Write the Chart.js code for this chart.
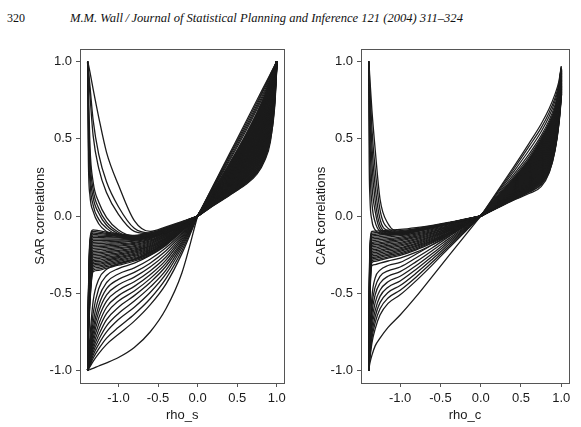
<!DOCTYPE html>
<html><head><meta charset="utf-8">
<script src="https://cdn.jsdelivr.net/npm/chart.js@4.4.1/dist/chart.umd.min.js"></script>
<style>
html,body{margin:0;padding:0;background:#fff;width:581px;height:427px;overflow:hidden;}
#hn{position:absolute;left:7px;top:12px;font:13px/13px "Liberation Serif";color:#111;white-space:nowrap;}
#ht{position:absolute;left:70px;top:12px;font:italic 13px/13px "Liberation Serif";color:#111;white-space:nowrap;}
#c1{position:absolute;left:0;top:0;width:290px;height:427px;}
#c2{position:absolute;left:290px;top:0;width:291px;height:427px;}
</style></head><body>
<span id="hn">320</span>
<span id="ht">M.M. Wall&#8201;/&#8201;Journal of Statistical Planning and Inference 121 (2004) 311&ndash;324</span>
<canvas id="c1" width="290" height="427"></canvas>
<canvas id="c2" width="291" height="427"></canvas>
<script>
// fit the running header to the width it has in the page
(function(){
  const ht = document.getElementById('ht');
  const w = ht.getBoundingClientRect().width;
  if (w > 0) ht.style.fontSize = (13 * 393 / w).toFixed(2) + 'px';
  const hn = document.getElementById('hn');
  const wn = hn.getBoundingClientRect().width;
  if (wn > 0) hn.style.fontSize = (13 * 18 / wn).toFixed(2) + 'px';
})();

const xTicks = [-1, -0.5, 0, 0.5, 1];
const yTicks = [-1, -0.5, 0, 0.5, 1];

// ---- SAR panel ----
const sarLeftX = [-1.39, -1.38, -1.36, -1.32, -1.25, -1.15, -1.0, -0.8, -0.6, -0.4, -0.2, 0];
const sarLeftCurves = [
  [1, 0.98, 0.93, 0.82, 0.64, 0.41, 0.20, -0.03, -0.10, -0.07, -0.037, 0],
  [1, 0.95, 0.84, 0.62, 0.40, 0.22, 0.06, -0.08, -0.11, -0.075, -0.04, 0],
  [1, 0.93, 0.78, 0.52, 0.31, 0.15, 0.01, -0.10, -0.115, -0.08, -0.042, 0],
  [1, 0.84, 0.45, 0.22, 0.09, -0.01, -0.09, -0.13, -0.12, -0.085, -0.045, 0],
  [1, 0.74, 0.38, 0.17, 0.05, -0.04, -0.105, -0.14, -0.125, -0.09, -0.047, 0],
  [1, 0.62, 0.30, 0.12, 0.02, -0.06, -0.115, -0.145, -0.13, -0.095, -0.05, 0],
  [1, 0.50, 0.22, 0.07, -0.02, -0.08, -0.125, -0.15, -0.135, -0.10, -0.052, 0],
  [1, 0.36, 0.13, 0.03, -0.05, -0.10, -0.135, -0.155, -0.14, -0.105, -0.055, 0],
  [-1, -0.52, -0.15, -0.09, -0.095, -0.105, -0.115, -0.125, -0.11, -0.08, -0.042, 0],
  [-1, -0.56, -0.17, -0.10, -0.104, -0.112, -0.12, -0.128, -0.113, -0.082, -0.043, 0],
  [-1, -0.53, -0.18, -0.11, -0.113, -0.118, -0.125, -0.131, -0.116, -0.084, -0.044, 0],
  [-1, -0.58, -0.20, -0.12, -0.122, -0.125, -0.13, -0.134, -0.119, -0.086, -0.045, 0],
  [-1, -0.55, -0.21, -0.13, -0.131, -0.133, -0.136, -0.138, -0.122, -0.088, -0.046, 0],
  [-1, -0.60, -0.23, -0.14, -0.14, -0.141, -0.142, -0.142, -0.126, -0.091, -0.048, 0],
  [-1, -0.57, -0.24, -0.15, -0.15, -0.15, -0.149, -0.146, -0.13, -0.094, -0.05, 0],
  [-1, -0.62, -0.26, -0.16, -0.159, -0.158, -0.156, -0.151, -0.134, -0.097, -0.051, 0],
  [-1, -0.59, -0.27, -0.17, -0.169, -0.167, -0.164, -0.157, -0.139, -0.10, -0.053, 0],
  [-1, -0.64, -0.29, -0.18, -0.179, -0.176, -0.172, -0.163, -0.144, -0.104, -0.055, 0],
  [-1, -0.61, -0.30, -0.19, -0.188, -0.185, -0.18, -0.17, -0.149, -0.108, -0.057, 0],
  [-1, -0.66, -0.32, -0.20, -0.198, -0.194, -0.188, -0.177, -0.155, -0.112, -0.059, 0],
  [-1, -0.63, -0.33, -0.21, -0.208, -0.203, -0.196, -0.184, -0.161, -0.116, -0.061, 0],
  [-1, -0.68, -0.35, -0.22, -0.217, -0.212, -0.205, -0.191, -0.167, -0.12, -0.063, 0],
  [-1, -0.65, -0.36, -0.23, -0.227, -0.221, -0.213, -0.198, -0.173, -0.125, -0.066, 0],
  [-1, -0.70, -0.38, -0.24, -0.237, -0.23, -0.222, -0.206, -0.179, -0.13, -0.068, 0],
  [-1, -0.67, -0.39, -0.25, -0.246, -0.239, -0.23, -0.213, -0.185, -0.134, -0.07, 0],
  [-1, -0.72, -0.41, -0.26, -0.256, -0.248, -0.238, -0.22, -0.191, -0.139, -0.073, 0],
  [-1, -0.69, -0.42, -0.27, -0.266, -0.257, -0.246, -0.227, -0.197, -0.143, -0.075, 0],
  [-1, -0.74, -0.44, -0.28, -0.275, -0.266, -0.254, -0.234, -0.203, -0.148, -0.078, 0],
  [-1, -0.71, -0.45, -0.29, -0.285, -0.275, -0.262, -0.241, -0.209, -0.152, -0.08, 0],
  [-1, -0.76, -0.47, -0.30, -0.294, -0.284, -0.27, -0.248, -0.215, -0.157, -0.083, 0],
  [-1, -0.73, -0.48, -0.31, -0.304, -0.293, -0.278, -0.255, -0.221, -0.161, -0.085, 0],
  [-1, -0.78, -0.50, -0.32, -0.313, -0.301, -0.286, -0.262, -0.227, -0.166, -0.088, 0],
  [-1, -0.75, -0.51, -0.33, -0.323, -0.31, -0.294, -0.27, -0.233, -0.17, -0.09, 0],
  [-1, -0.80, -0.53, -0.34, -0.332, -0.319, -0.302, -0.277, -0.239, -0.175, -0.093, 0],
  [-1, -0.77, -0.54, -0.35, -0.342, -0.328, -0.31, -0.284, -0.245, -0.18, -0.095, 0],
  [-1, -0.82, -0.56, -0.36, -0.351, -0.337, -0.318, -0.291, -0.251, -0.184, -0.098, 0],
  [-1, -0.92, -0.78, -0.55, -0.41, -0.345, -0.31, -0.28, -0.235, -0.175, -0.093, 0],
  [-1, -0.94, -0.83, -0.63, -0.47, -0.385, -0.34, -0.305, -0.255, -0.19, -0.10, 0],
  [-1, -0.95, -0.86, -0.69, -0.53, -0.43, -0.375, -0.335, -0.28, -0.205, -0.11, 0],
  [-1, -0.96, -0.88, -0.73, -0.58, -0.47, -0.41, -0.365, -0.305, -0.225, -0.12, 0],
  [-1, -0.965, -0.895, -0.76, -0.62, -0.51, -0.445, -0.395, -0.33, -0.245, -0.13, 0],
  [-1, -0.97, -0.91, -0.79, -0.66, -0.55, -0.48, -0.425, -0.355, -0.265, -0.14, 0],
  [-1, -0.975, -0.92, -0.815, -0.70, -0.59, -0.515, -0.455, -0.38, -0.285, -0.152, 0],
  [-1, -0.978, -0.93, -0.84, -0.735, -0.63, -0.55, -0.485, -0.405, -0.305, -0.165, 0],
  [-1, -0.982, -0.94, -0.86, -0.77, -0.67, -0.59, -0.515, -0.43, -0.325, -0.177, 0],
  [-1, -0.985, -0.95, -0.88, -0.80, -0.71, -0.63, -0.55, -0.46, -0.35, -0.19, 0],
  [-1, -0.988, -0.96, -0.90, -0.83, -0.75, -0.67, -0.59, -0.495, -0.375, -0.205, 0],
  [-1, -0.99, -0.965, -0.92, -0.86, -0.79, -0.72, -0.635, -0.535, -0.405, -0.225, 0],
  [-1, -0.992, -0.975, -0.94, -0.89, -0.83, -0.765, -0.68, -0.575, -0.44, -0.245, 0],
  [-1, -0.997, -0.993, -0.985, -0.97, -0.95, -0.915, -0.85, -0.75, -0.60, -0.37, 0]
];
const sarRightX = [0, 0.2, 0.4, 0.6, 0.75, 0.85, 0.92, 0.97, 1.0];
const sarRightCurves = [
  [0, 0.200, 0.400, 0.600, 0.750, 0.850, 0.920, 0.970, 1],
  [0, 0.195, 0.390, 0.585, 0.735, 0.840, 0.915, 0.968, 1],
  [0, 0.190, 0.380, 0.570, 0.720, 0.830, 0.910, 0.965, 1],
  [0, 0.183, 0.367, 0.555, 0.705, 0.815, 0.900, 0.962, 1],
  [0, 0.177, 0.355, 0.540, 0.690, 0.800, 0.890, 0.958, 1],
  [0, 0.165, 0.335, 0.515, 0.665, 0.780, 0.875, 0.950, 1],
  [0, 0.160, 0.325, 0.500, 0.650, 0.765, 0.865, 0.945, 1],
  [0, 0.155, 0.315, 0.487, 0.636, 0.752, 0.855, 0.940, 1],
  [0, 0.150, 0.305, 0.474, 0.622, 0.739, 0.845, 0.935, 1],
  [0, 0.146, 0.296, 0.461, 0.608, 0.726, 0.835, 0.930, 1],
  [0, 0.142, 0.287, 0.449, 0.594, 0.713, 0.824, 0.924, 1],
  [0, 0.138, 0.279, 0.437, 0.580, 0.700, 0.813, 0.918, 1],
  [0, 0.134, 0.271, 0.425, 0.566, 0.687, 0.802, 0.912, 1],
  [0, 0.130, 0.263, 0.413, 0.552, 0.674, 0.791, 0.906, 1],
  [0, 0.126, 0.255, 0.401, 0.538, 0.660, 0.780, 0.900, 1],
  [0, 0.122, 0.247, 0.389, 0.524, 0.646, 0.768, 0.893, 1],
  [0, 0.118, 0.239, 0.377, 0.510, 0.632, 0.756, 0.886, 1],
  [0, 0.114, 0.231, 0.366, 0.496, 0.618, 0.744, 0.879, 1],
  [0, 0.110, 0.223, 0.355, 0.482, 0.604, 0.732, 0.872, 1],
  [0, 0.106, 0.216, 0.344, 0.468, 0.590, 0.719, 0.864, 1],
  [0, 0.103, 0.209, 0.333, 0.454, 0.575, 0.706, 0.856, 1],
  [0, 0.100, 0.202, 0.322, 0.440, 0.560, 0.693, 0.848, 1],
  [0, 0.097, 0.195, 0.311, 0.426, 0.545, 0.680, 0.839, 1],
  [0, 0.094, 0.188, 0.300, 0.412, 0.530, 0.666, 0.830, 1],
  [0, 0.091, 0.181, 0.289, 0.398, 0.514, 0.652, 0.821, 1],
  [0, 0.088, 0.174, 0.278, 0.384, 0.498, 0.637, 0.811, 1],
  [0, 0.085, 0.168, 0.268, 0.370, 0.482, 0.622, 0.800, 1],
  [0, 0.082, 0.162, 0.258, 0.356, 0.466, 0.606, 0.788, 1],
  [0, 0.079, 0.156, 0.248, 0.342, 0.449, 0.589, 0.775, 1],
  [0, 0.076, 0.150, 0.238, 0.327, 0.431, 0.571, 0.760, 1],
  [0, 0.074, 0.145, 0.228, 0.312, 0.413, 0.551, 0.744, 1],
  [0, 0.072, 0.140, 0.218, 0.297, 0.394, 0.529, 0.726, 1],
  [0, 0.070, 0.135, 0.208, 0.282, 0.376, 0.505, 0.708, 1],
  [0, 0.070, 0.135, 0.200, 0.270, 0.360, 0.480, 0.700, 1]
];

// ---- CAR panel ----
const carLeftX = [-1.39, -1.385, -1.375, -1.35, -1.31, -1.25, -1.15, -1.0, -0.8, -0.6, -0.4, -0.2, 0];
const carLeftCurves = [
  [1, 0.97, 0.88, 0.68, 0.43, 0.11, -0.05, -0.10, -0.085, -0.065, -0.044, -0.022, 0],
  [1, 0.95, 0.82, 0.56, 0.30, 0.04, -0.08, -0.105, -0.088, -0.067, -0.045, -0.023, 0],
  [1, 0.92, 0.74, 0.45, 0.19, -0.02, -0.095, -0.11, -0.09, -0.068, -0.046, -0.023, 0],
  [1, 0.88, 0.64, 0.33, 0.10, -0.06, -0.105, -0.112, -0.093, -0.07, -0.047, -0.024, 0],
  [1, 0.80, 0.50, 0.20, 0.03, -0.085, -0.11, -0.115, -0.095, -0.072, -0.048, -0.024, 0],
  [1, 0.65, 0.32, 0.08, -0.04, -0.10, -0.115, -0.118, -0.097, -0.073, -0.049, -0.025, 0],
  [1, 0.40, 0.12, -0.03, -0.09, -0.115, -0.12, -0.12, -0.10, -0.075, -0.05, -0.025, 0],
  [-1, -0.55, -0.20, -0.10, -0.098, -0.096, -0.092, -0.087, -0.075, -0.06, -0.042, -0.021, 0],
  [-1, -0.60, -0.22, -0.11, -0.108, -0.105, -0.10, -0.094, -0.081, -0.064, -0.045, -0.023, 0],
  [-1, -0.57, -0.23, -0.12, -0.118, -0.115, -0.109, -0.102, -0.088, -0.07, -0.049, -0.025, 0],
  [-1, -0.62, -0.25, -0.13, -0.127, -0.124, -0.118, -0.11, -0.095, -0.075, -0.053, -0.027, 0],
  [-1, -0.59, -0.26, -0.14, -0.137, -0.134, -0.127, -0.119, -0.102, -0.081, -0.057, -0.029, 0],
  [-1, -0.64, -0.28, -0.15, -0.147, -0.143, -0.137, -0.127, -0.11, -0.087, -0.062, -0.031, 0],
  [-1, -0.61, -0.29, -0.16, -0.157, -0.153, -0.146, -0.136, -0.117, -0.093, -0.066, -0.034, 0],
  [-1, -0.66, -0.31, -0.17, -0.167, -0.162, -0.155, -0.144, -0.124, -0.099, -0.07, -0.036, 0],
  [-1, -0.63, -0.32, -0.18, -0.176, -0.172, -0.164, -0.153, -0.131, -0.104, -0.074, -0.038, 0],
  [-1, -0.68, -0.34, -0.19, -0.186, -0.181, -0.173, -0.161, -0.139, -0.11, -0.078, -0.04, 0],
  [-1, -0.65, -0.35, -0.20, -0.196, -0.191, -0.182, -0.17, -0.146, -0.116, -0.082, -0.042, 0],
  [-1, -0.70, -0.37, -0.21, -0.206, -0.20, -0.191, -0.178, -0.153, -0.122, -0.086, -0.044, 0],
  [-1, -0.67, -0.38, -0.22, -0.216, -0.21, -0.20, -0.187, -0.161, -0.128, -0.09, -0.046, 0],
  [-1, -0.72, -0.40, -0.23, -0.225, -0.22, -0.209, -0.195, -0.168, -0.133, -0.094, -0.048, 0],
  [-1, -0.69, -0.41, -0.24, -0.235, -0.229, -0.218, -0.204, -0.175, -0.139, -0.098, -0.05, 0],
  [-1, -0.74, -0.43, -0.25, -0.245, -0.239, -0.228, -0.212, -0.182, -0.145, -0.102, -0.052, 0],
  [-1, -0.71, -0.44, -0.26, -0.255, -0.248, -0.237, -0.221, -0.19, -0.151, -0.107, -0.055, 0],
  [-1, -0.76, -0.46, -0.27, -0.265, -0.258, -0.246, -0.229, -0.197, -0.157, -0.111, -0.057, 0],
  [-1, -0.73, -0.47, -0.28, -0.274, -0.267, -0.255, -0.238, -0.204, -0.162, -0.115, -0.059, 0],
  [-1, -0.78, -0.49, -0.29, -0.284, -0.277, -0.264, -0.246, -0.212, -0.168, -0.119, -0.061, 0],
  [-1, -0.75, -0.50, -0.30, -0.294, -0.286, -0.273, -0.255, -0.219, -0.174, -0.123, -0.063, 0],
  [-1, -0.80, -0.53, -0.32, -0.314, -0.305, -0.291, -0.272, -0.234, -0.186, -0.131, -0.067, 0],
  [-1, -0.90, -0.75, -0.52, -0.40, -0.35, -0.32, -0.30, -0.246, -0.186, -0.123, -0.062, 0],
  [-1, -0.92, -0.79, -0.58, -0.46, -0.39, -0.355, -0.33, -0.27, -0.205, -0.135, -0.068, 0],
  [-1, -0.93, -0.82, -0.63, -0.51, -0.435, -0.39, -0.36, -0.295, -0.223, -0.148, -0.074, 0],
  [-1, -0.94, -0.85, -0.68, -0.56, -0.48, -0.425, -0.39, -0.32, -0.242, -0.16, -0.08, 0],
  [-1, -0.95, -0.87, -0.72, -0.61, -0.52, -0.46, -0.42, -0.344, -0.26, -0.172, -0.086, 0],
  [-1, -0.955, -0.89, -0.76, -0.65, -0.56, -0.495, -0.45, -0.369, -0.279, -0.185, -0.092, 0],
  [-1, -0.96, -0.905, -0.79, -0.69, -0.60, -0.53, -0.48, -0.394, -0.298, -0.197, -0.098, 0],
  [-1, -0.965, -0.92, -0.82, -0.73, -0.64, -0.565, -0.51, -0.418, -0.316, -0.209, -0.105, 0],
  [-1, -0.98, -0.95, -0.90, -0.84, -0.79, -0.72, -0.64, -0.52, -0.39, -0.26, -0.13, 0]
];
const carRightX = [0, 0.2, 0.4, 0.6, 0.75, 0.85, 0.92, 0.97, 1.0];
const carRightCurves = [
  [0, 0.155, 0.310, 0.470, 0.595, 0.695, 0.785, 0.870, 0.970],
  [0, 0.148, 0.296, 0.450, 0.570, 0.670, 0.760, 0.855, 0.965],
  [0, 0.140, 0.280, 0.425, 0.545, 0.645, 0.740, 0.840, 0.960],
  [0, 0.130, 0.262, 0.400, 0.520, 0.620, 0.715, 0.825, 0.955],
  [0, 0.122, 0.248, 0.382, 0.505, 0.605, 0.697, 0.812, 0.952],
  [0, 0.115, 0.235, 0.365, 0.490, 0.590, 0.680, 0.800, 0.950],
  [0, 0.112, 0.229, 0.356, 0.478, 0.578, 0.670, 0.793, 0.944],
  [0, 0.109, 0.223, 0.347, 0.466, 0.566, 0.660, 0.786, 0.938],
  [0, 0.106, 0.217, 0.338, 0.454, 0.554, 0.650, 0.779, 0.932],
  [0, 0.103, 0.211, 0.329, 0.442, 0.542, 0.640, 0.772, 0.926],
  [0, 0.100, 0.205, 0.320, 0.430, 0.530, 0.630, 0.765, 0.920],
  [0, 0.097, 0.199, 0.311, 0.419, 0.518, 0.620, 0.758, 0.914],
  [0, 0.094, 0.193, 0.302, 0.408, 0.506, 0.610, 0.751, 0.908],
  [0, 0.091, 0.187, 0.293, 0.397, 0.494, 0.600, 0.744, 0.902],
  [0, 0.088, 0.181, 0.284, 0.386, 0.482, 0.590, 0.737, 0.896],
  [0, 0.086, 0.176, 0.276, 0.375, 0.470, 0.580, 0.730, 0.890],
  [0, 0.084, 0.171, 0.268, 0.364, 0.458, 0.570, 0.723, 0.884],
  [0, 0.082, 0.166, 0.260, 0.353, 0.446, 0.560, 0.716, 0.878],
  [0, 0.080, 0.161, 0.252, 0.342, 0.434, 0.550, 0.709, 0.872],
  [0, 0.078, 0.156, 0.244, 0.331, 0.422, 0.540, 0.702, 0.866],
  [0, 0.076, 0.151, 0.236, 0.320, 0.410, 0.530, 0.695, 0.860],
  [0, 0.074, 0.146, 0.228, 0.309, 0.398, 0.520, 0.688, 0.854],
  [0, 0.072, 0.141, 0.220, 0.298, 0.386, 0.510, 0.681, 0.848],
  [0, 0.070, 0.137, 0.212, 0.288, 0.375, 0.500, 0.674, 0.842],
  [0, 0.068, 0.133, 0.205, 0.278, 0.364, 0.490, 0.667, 0.836],
  [0, 0.066, 0.129, 0.198, 0.268, 0.353, 0.480, 0.660, 0.830],
  [0, 0.064, 0.125, 0.191, 0.258, 0.342, 0.470, 0.653, 0.824],
  [0, 0.062, 0.121, 0.184, 0.248, 0.331, 0.461, 0.645, 0.818],
  [0, 0.060, 0.117, 0.177, 0.238, 0.320, 0.452, 0.637, 0.811],
  [0, 0.058, 0.113, 0.170, 0.228, 0.310, 0.444, 0.628, 0.804],
  [0, 0.055, 0.109, 0.163, 0.217, 0.300, 0.436, 0.619, 0.797],
  [0, 0.053, 0.105, 0.156, 0.205, 0.290, 0.428, 0.610, 0.789],
  [0, 0.050, 0.100, 0.145, 0.190, 0.280, 0.420, 0.600, 0.780]
];

const LINE = '#1b1b1b';
const AXC = '#555555';
const TXT = '#1a1a1a';
const FAM = '"Liberation Sans", Arial, sans-serif';
const FS = 13;
const OUTLIERS = 5;

function makeChart(canvas, lx, lc, rx, rc, yTitle, xTitle, yAxisW, titlePad, rightPad) {
  const datasets = [];
  const add = (xs, curves, widthFor) => curves.forEach((c, k) => datasets.push({
    data: xs.map((x, i) => ({x: x, y: c[i]})),
    borderColor: LINE, borderWidth: widthFor(k), pointRadius: 0, fill: false,
    cubicInterpolationMode: 'monotone', xAxisID: 'x', yAxisID: 'y'
  }));
  add(lx, lc, () => 1.3);
  add(rx, rc, k => (k < OUTLIERS || k === rc.length - 1) ? 1.2 : 2.0);
  return new Chart(canvas, {
    type: 'line',
    data: {datasets},
    options: {
      responsive: false, animation: false, events: [],
      layout: {padding: {top: 49, right: rightPad, bottom: 0, left: 0}},
      plugins: {legend: {display: false}, tooltip: {enabled: false}},
      scales: {
        x: {
          type: 'linear', position: 'bottom', min: -1.486, max: 1.096,
          afterBuildTicks: s => { s.ticks = xTicks.map(v => ({value: v})); },
          afterFit: s => { s.height = 44; },
          grid: {display: true, drawOnChartArea: false, drawTicks: true, tickLength: 4, color: AXC, lineWidth: 1},
          border: {display: true, color: AXC, width: 1},
          ticks: {padding: 4, color: TXT, font: {family: FAM, size: FS}, maxRotation: 0, autoSkip: false,
                  callback: v => v.toFixed(1)},
          title: {display: true, text: xTitle, color: TXT, font: {family: FAM, size: FS}, padding: {top: 0, bottom: 4}}
        },
        y: {
          type: 'linear', position: 'left', min: -1.08, max: 1.08,
          afterBuildTicks: s => { s.ticks = yTicks.map(v => ({value: v})); },
          afterFit: s => { s.width = yAxisW; },
          grid: {display: true, drawOnChartArea: false, drawTicks: true, tickLength: 4, color: AXC, lineWidth: 1},
          border: {display: true, color: AXC, width: 1},
          ticks: {padding: 4, color: TXT, font: {family: FAM, size: FS}, autoSkip: false,
                  callback: v => v.toFixed(1)},
          title: {display: true, text: yTitle, color: TXT, font: {family: FAM, size: FS}, padding: {top: titlePad, bottom: 0}}
        },
        x2: {
          type: 'linear', position: 'top', min: 0, max: 1,
          afterFit: s => { s.height = 0; },
          grid: {display: false, drawTicks: false}, ticks: {display: false},
          border: {display: true, color: AXC, width: 1}
        },
        y2: {
          type: 'linear', position: 'right', min: 0, max: 1,
          afterFit: s => { s.width = 0; },
          grid: {display: false, drawTicks: false}, ticks: {display: false},
          border: {display: true, color: AXC, width: 1}
        }
      }
    }
  });
}

makeChart(document.getElementById('c1'), sarLeftX, sarLeftCurves, sarRightX, sarRightCurves,
          'SAR correlations', 'rho_s', 80, 32.2, 2);
makeChart(document.getElementById('c2'), carLeftX, carLeftCurves, carRightX, carRightCurves,
          'CAR correlations', 'rho_c', 71, 23.2, 12);
</script>
</body></html>
